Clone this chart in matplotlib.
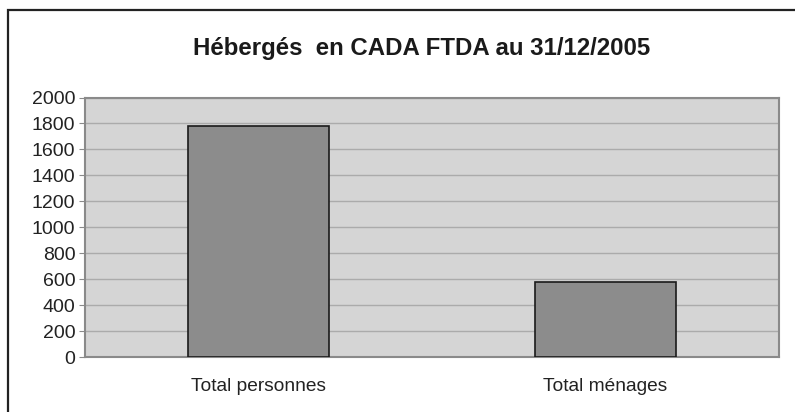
import matplotlib
matplotlib.use('Agg')
import matplotlib.pyplot as plt
import numpy as np
from matplotlib.patches import Rectangle

categories = ['Total personnes', 'Total ménages']
values = [1780, 575]
yticks = list(range(0, 2001, 200))

plt.rcParams['font.family'] = ['Liberation Sans', 'DejaVu Sans']

fig = plt.figure(figsize=(7.95, 4.12), dpi=100)

# outer frame (only top and left edges visible in the crop)
fig.patches.append(Rectangle((8 / 795, -0.1), 1.2, 1 - 10 / 412 + 0.1,
                             transform=fig.transFigure, fill=False,
                             edgecolor='#222222', linewidth=1.6))

ax = fig.add_axes([85 / 795, 55 / 412, 694 / 795, 259.5 / 412])
ax.set_facecolor('#d5d5d5')

x = np.arange(len(categories))
ax.bar(x, values, width=0.404, color='#8c8c8c', edgecolor='#1a1a1a',
       linewidth=1.2, zorder=3)

ax.set_xlim(-0.5, 1.5)
ax.set_ylim(0, 2000)
ax.set_yticks(yticks)
ax.set_xticks(x)
ax.set_xticklabels(categories)
ax.yaxis.grid(True, color='#ababab', linewidth=1.0, zorder=0)
ax.set_axisbelow(True)

for side in ['top', 'right', 'left', 'bottom']:
    ax.spines[side].set_color('#8a8a8a')
    ax.spines[side].set_linewidth(1.5)

ax.tick_params(axis='y', labelsize=14, length=4, color='#8a8a8a', pad=3,
               labelcolor='#222222')
ax.tick_params(axis='x', labelsize=13.8, length=0, pad=15, labelcolor='#222222')

fig.text(422 / 795, 1 - 48 / 412, 'Hébergés  en CADA FTDA au 31/12/2005',
         ha='center', va='center', fontsize=17.3, fontweight='bold',
         color='#1a1a1a')

fig.savefig('out.png', dpi=100)
